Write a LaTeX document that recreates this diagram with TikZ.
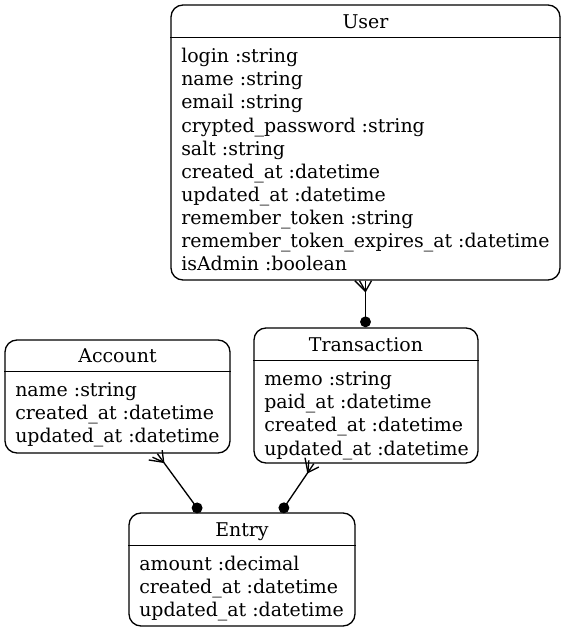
\documentclass[tikz,border=0pt]{standalone}
\usepackage{fontspec}
\setmainfont{DejaVu Serif}
\usetikzlibrary{calc}
\begin{document}
\begin{tikzpicture}[x=0.75pt,y=-0.75pt,
  box/.style={draw,line width=1pt,rounded corners=9pt,inner sep=0pt},
  attr/.style={anchor=base west,inner sep=0pt,font=\fontsize{14.2}{17}\selectfont},
  ttl/.style={anchor=base,inner sep=0pt,font=\fontsize{14.2}{17}\selectfont},
  sep/.style={line width=1pt},
  conn/.style={line width=1pt}]
\useasboundingbox (0,0) rectangle (565,632);
% boxes
\node[box,minimum width=291.75pt,minimum height=206.25pt] (user) at (365.5,142.5) {};
\node[box,minimum width=168.75pt,minimum height=84.75pt] (account) at (117.5,396.5) {};
\node[box,minimum width=168pt,minimum height=101.25pt] (transaction) at (366,395.5) {};
\node[box,minimum width=169.5pt,minimum height=84.75pt] (entry) at (242,569.5) {};
% header separators
\draw[sep] ($(user.north west)+(0,33)$) -- ($(user.north east)+(0,33)$);
\draw[sep] ($(account.north west)+(0,32)$) -- ($(account.north east)+(0,32)$);
\draw[sep] ($(transaction.north west)+(0,33)$) -- ($(transaction.north east)+(0,33)$);
\draw[sep] ($(entry.north west)+(0,33)$) -- ($(entry.north east)+(0,33)$);
% titles
\node[ttl] (userT) at (365.5,28) {User};
\node[ttl] (accountT) at (117.5,362.5) {Account};
\node[ttl] (transactionT) at (366,351) {Transaction};
\node[ttl] (entryT) at (242,536) {Entry};
% User attributes
\node[attr] (u1) at (181,62.7) {login :string};
\node[attr] (u2) at (181,85.8) {name :string};
\node[attr] (u3) at (181,108.9) {email :string};
\node[attr] (u4) at (181,132.0) {crypted\_password :string};
\node[attr] (u5) at (181,155.1) {salt :string};
\node[attr] (u6) at (181,178.2) {created\_at :datetime};
\node[attr] (u7) at (181,201.3) {updated\_at :datetime};
\node[attr] (u8) at (181,224.4) {remember\_token :string};
\node[attr] (u9) at (181,247.5) {remember\_token\_expires\_at :datetime};
\node[attr] (u10) at (181,270.6) {isAdmin :boolean};
% Account attributes
\node[attr] (a1) at (15,396.7) {name :string};
\node[attr] (a2) at (15,419.8) {created\_at :datetime};
\node[attr] (a3) at (15,442.9) {updated\_at :datetime};
% Transaction attributes
\node[attr] (t1) at (264,385.7) {memo :string};
\node[attr] (t2) at (264,408.8) {paid\_at :datetime};
\node[attr] (t3) at (264,431.9) {created\_at :datetime};
\node[attr] (t4) at (264,455.0) {updated\_at :datetime};
% Entry attributes
\node[attr] (e1) at (139,570.7) {amount :decimal};
\node[attr] (e2) at (139,593.8) {created\_at :datetime};
\node[attr] (e3) at (139,616.9) {updated\_at :datetime};
% connector end points
\path (user.south) coordinate (c1s)
      (user.south |- transaction.north) coordinate (c1e)
      ($(account.south west)+(153,0)$) coordinate (c2s)
      ($(entry.north west)+(72,0)$) coordinate (c2e)
      ($(transaction.south west)+(60.5,0)$) coordinate (c3s)
      ($(entry.north west)+(152.5,0)$) coordinate (c3e);
% connectors
\foreach \s/\e in {c1s/c1e,c2s/c2e,c3s/c3e}{
  \draw[conn] (\s) -- (\e);
  \draw[conn] ($(\s)!8pt!-90:(\e)$) -- ($(\s)!8pt!(\e)$) -- ($(\s)!4.5pt!90:(\e)$);
  \draw[conn] ($(\s)!4.5pt!-90:(\e)$) -- ($(\s)!8pt!(\e)$);
  \fill ($(\e)!4.1pt!(\s)$) circle (4.1pt);
}
\end{tikzpicture}
\end{document}
